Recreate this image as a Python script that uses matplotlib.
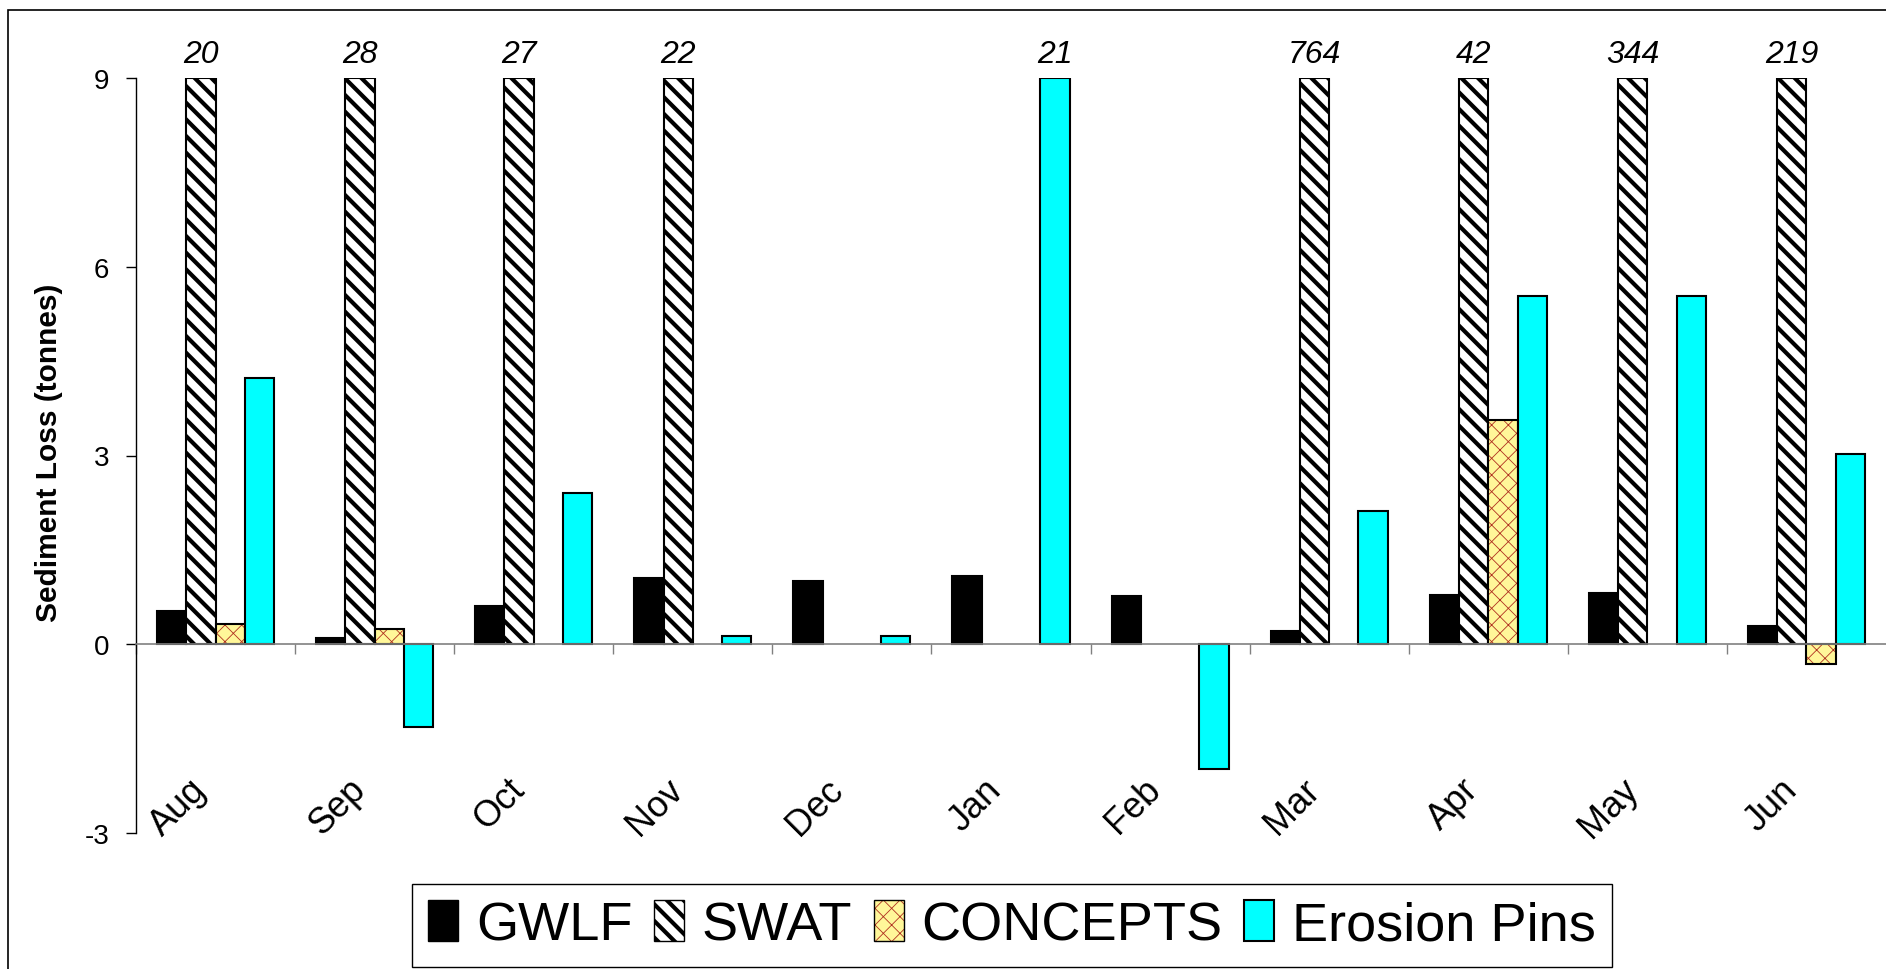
import numpy as np
import matplotlib
matplotlib.use("Agg")
import matplotlib.pyplot as plt
from matplotlib.patches import Rectangle, Patch

months = ["Aug", "Sep", "Oct", "Nov", "Dec", "Jan", "Feb", "Mar", "Apr", "May", "Jun"]
gwlf = [0.53, 0.10, 0.61, 1.05, 1.01, 1.09, 0.77, 0.21, 0.78, 0.81, 0.29]
swat = [20, 28, 27, 22, np.nan, np.nan, np.nan, 764, 42, 344, 219]
concepts = [0.32, 0.25, np.nan, np.nan, np.nan, np.nan, np.nan, np.nan, 3.56, np.nan, -0.32]
erosion_pins = [4.23, -1.32, 2.40, 0.13, 0.13, 21, -1.98, 2.12, 5.54, 5.54, 3.03]
yticks = [-3, 0, 3, 6, 9]

YMIN, YMAX = -3, 9
narrow = ["Liberation Sans Narrow", "Liberation Sans", "DejaVu Sans"]
plain = ["Liberation Sans", "DejaVu Sans"]

plt.rcParams["hatch.linewidth"] = 3.0

W, H = 1886, 970
fig = plt.figure(figsize=(W / 100, H / 100), dpi=100)
ax = fig.add_axes([136 / W, 136 / H, 1750 / W, 755 / H])

x = np.arange(len(months))
width = 0.184
offs = (np.arange(4) - 1.5) * width
edge_lw = 1.5

def clipped(vals):
    return np.minimum(np.array(vals, dtype=float), YMAX)

def thin_hatch(patch, lw=0.6):
    if hasattr(patch, "set_hatch_linewidth"):
        patch.set_hatch_linewidth(lw)

ax.bar(x + offs[0], clipped(gwlf), width, color="black", edgecolor="black", linewidth=edge_lw)
ax.bar(x + offs[1], clipped(swat), width, color="white", edgecolor="black",
       hatch="\\\\", linewidth=edge_lw)
conc_fill = ax.bar(x + offs[2], clipped(concepts), width, color="#FFF799",
                   edgecolor="#B03020", hatch="xx", linewidth=0)
for p in conc_fill:
    thin_hatch(p)
ax.bar(x + offs[2], clipped(concepts), width, fill=False, edgecolor="black", linewidth=edge_lw)
ax.bar(x + offs[3], clipped(erosion_pins), width, color="#00FFFF", edgecolor="black",
       linewidth=edge_lw)

# values beyond the axis top are written above the clipped bars
for k, series in [(1, swat), (3, erosion_pins)]:
    for i, v in enumerate(series):
        if not np.isnan(v) and v > YMAX:
            ax.annotate(f"{v:.0f}", (x[i] + offs[k], YMAX), xytext=(0, 11.5),
                        textcoords="offset points", ha="center", va="baseline",
                        fontsize=23, style="italic", family=narrow, annotation_clip=False)

ax.set_xlim(-0.5, len(months) - 0.5)
ax.set_ylim(YMIN, YMAX)
ax.set_yticks(yticks)
ax.set_yticklabels([str(t) for t in yticks], family=plain, fontsize=20)
ax.tick_params(axis="y", direction="out", length=7.2, width=1, pad=12)

ax.set_xticks(x - 0.5)
ax.set_xticklabels([])
ax.tick_params(axis="x", direction="out", length=7.5, width=1, color="#808080")

ax.spines["top"].set_visible(False)
ax.spines["right"].set_visible(False)
ax.spines["bottom"].set_position(("data", 0))
ax.spines["bottom"].set_color("#808080")
ax.spines["bottom"].set_linewidth(1.2)
ax.spines["left"].set_linewidth(1.0)

for i, m in enumerate(months):
    ax.text(x[i] - 0.015, -2.02, m, rotation=45, ha="right", va="top",
            fontsize=26, family=plain)

fig.text(49 / W, 1 - 453 / H, "Sediment Loss (tonnes)", rotation=90, ha="center",
         va="center", fontsize=21.5, fontweight="bold", family=plain)

# outer chart border
fig.add_artist(Rectangle((8 / W, -0.1), 2, (H - 11) / H + 0.1, transform=fig.transFigure,
                         fill=False, edgecolor="black", linewidth=1.2))

handles = [
    Patch(facecolor="black", edgecolor="black"),
    Patch(facecolor="white", edgecolor="black", hatch="\\\\"),
    (Patch(facecolor="#FFF799", edgecolor="#B03020", hatch="xx", linewidth=0),
     Patch(fill=False, edgecolor="black", linewidth=1)),
    Patch(facecolor="#00FFFF", edgecolor="black", linewidth=1.5),
]
leg = fig.legend(handles, ["GWLF", "SWAT", "CONCEPTS", "Erosion Pins"], ncol=4,
                 loc="center", bbox_to_anchor=(1012 / W, 43.5 / H),
                 bbox_transform=fig.transFigure, prop={"family": plain, "size": 39},
                 handlelength=0.55, handleheight=0.78, handletextpad=0.33,
                 columnspacing=0.4, borderpad=0.3, fancybox=False, framealpha=1)
leg.get_frame().set_edgecolor("black")
leg.get_frame().set_linewidth(1.0)
thin_hatch(leg.legend_handles[2])

fig.savefig("out.png", dpi=100)
